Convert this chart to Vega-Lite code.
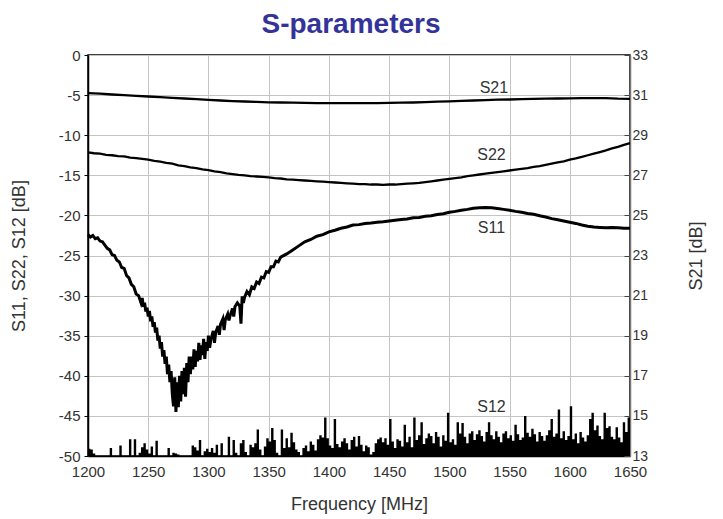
{
"$schema": "https://vega.github.io/schema/vega-lite/v6.json",
"width": 542, "height": 401,
"autosize": {"type": "none"},
"padding": {"left": 88, "top": 55, "right": 93, "bottom": 63},
"background": "white",
"config": {
  "view": {"stroke": "#000", "strokeWidth": 1.5},
  "font": "Liberation Sans",
  "axis": {"labelFont": "Liberation Sans", "labelFontSize": 15, "labelColor": "#333", "titleFont": "Liberation Sans", "titleFontSize": 18, "titleFontWeight": "normal", "titleColor": "#333", "gridColor": "#c4c4c4", "gridWidth": 1}
},
"title": {"text": "S-parameters", "fontSize": 28, "fontWeight": "bold", "color": "#333399", "font": "Liberation Sans", "anchor": "middle", "offset": 9, "dx": -8},
"datasets": {
"s21": [{"f":1200,"v":31.1},{"f":1210,"v":31.07},{"f":1220,"v":31.03},{"f":1230,"v":31.0},{"f":1240,"v":30.96},{"f":1250,"v":30.93},{"f":1260,"v":30.9},{"f":1270,"v":30.86},{"f":1280,"v":30.83},{"f":1290,"v":30.8},{"f":1300,"v":30.76},{"f":1310,"v":30.73},{"f":1320,"v":30.7},{"f":1330,"v":30.68},{"f":1340,"v":30.66},{"f":1350,"v":30.64},{"f":1360,"v":30.63},{"f":1370,"v":30.62},{"f":1380,"v":30.61},{"f":1390,"v":30.6},{"f":1400,"v":30.6},{"f":1410,"v":30.6},{"f":1420,"v":30.6},{"f":1430,"v":30.6},{"f":1440,"v":30.6},{"f":1450,"v":30.61},{"f":1460,"v":30.62},{"f":1470,"v":30.63},{"f":1480,"v":30.65},{"f":1490,"v":30.67},{"f":1500,"v":30.69},{"f":1510,"v":30.71},{"f":1520,"v":30.73},{"f":1530,"v":30.75},{"f":1540,"v":30.77},{"f":1550,"v":30.78},{"f":1560,"v":30.8},{"f":1570,"v":30.81},{"f":1580,"v":30.82},{"f":1590,"v":30.83},{"f":1600,"v":30.84},{"f":1610,"v":30.85},{"f":1620,"v":30.85},{"f":1630,"v":30.85},{"f":1640,"v":30.82},{"f":1650,"v":30.81}],
"s22": [{"f":1200,"v":-12.15},{"f":1205,"v":-12.25},{"f":1210,"v":-12.3},{"f":1215,"v":-12.45},{"f":1220,"v":-12.5},{"f":1225,"v":-12.6},{"f":1230,"v":-12.65},{"f":1235,"v":-12.8},{"f":1240,"v":-12.85},{"f":1245,"v":-12.95},{"f":1250,"v":-13.05},{"f":1255,"v":-13.2},{"f":1260,"v":-13.3},{"f":1265,"v":-13.45},{"f":1270,"v":-13.55},{"f":1275,"v":-13.75},{"f":1280,"v":-13.85},{"f":1285,"v":-14.0},{"f":1290,"v":-14.1},{"f":1295,"v":-14.25},{"f":1300,"v":-14.35},{"f":1305,"v":-14.5},{"f":1310,"v":-14.6},{"f":1315,"v":-14.75},{"f":1320,"v":-14.85},{"f":1325,"v":-14.95},{"f":1330,"v":-15.0},{"f":1335,"v":-15.1},{"f":1340,"v":-15.15},{"f":1345,"v":-15.2},{"f":1350,"v":-15.25},{"f":1355,"v":-15.35},{"f":1360,"v":-15.4},{"f":1365,"v":-15.5},{"f":1370,"v":-15.55},{"f":1375,"v":-15.6},{"f":1380,"v":-15.65},{"f":1385,"v":-15.7},{"f":1390,"v":-15.75},{"f":1395,"v":-15.8},{"f":1400,"v":-15.85},{"f":1405,"v":-15.9},{"f":1410,"v":-15.95},{"f":1415,"v":-16.0},{"f":1420,"v":-16.05},{"f":1425,"v":-16.1},{"f":1430,"v":-16.1},{"f":1435,"v":-16.15},{"f":1440,"v":-16.15},{"f":1445,"v":-16.2},{"f":1450,"v":-16.15},{"f":1455,"v":-16.15},{"f":1460,"v":-16.1},{"f":1465,"v":-16.05},{"f":1470,"v":-16.0},{"f":1475,"v":-15.95},{"f":1480,"v":-15.85},{"f":1485,"v":-15.75},{"f":1490,"v":-15.65},{"f":1495,"v":-15.55},{"f":1500,"v":-15.45},{"f":1505,"v":-15.35},{"f":1510,"v":-15.25},{"f":1515,"v":-15.1},{"f":1520,"v":-15.0},{"f":1525,"v":-14.9},{"f":1530,"v":-14.8},{"f":1535,"v":-14.7},{"f":1540,"v":-14.6},{"f":1545,"v":-14.5},{"f":1550,"v":-14.4},{"f":1555,"v":-14.3},{"f":1560,"v":-14.2},{"f":1565,"v":-14.1},{"f":1570,"v":-13.95},{"f":1575,"v":-13.85},{"f":1580,"v":-13.7},{"f":1585,"v":-13.55},{"f":1590,"v":-13.4},{"f":1595,"v":-13.25},{"f":1600,"v":-13.05},{"f":1605,"v":-12.9},{"f":1610,"v":-12.7},{"f":1615,"v":-12.5},{"f":1620,"v":-12.3},{"f":1625,"v":-12.1},{"f":1630,"v":-11.9},{"f":1635,"v":-11.65},{"f":1640,"v":-11.45},{"f":1645,"v":-11.2},{"f":1650,"v":-11.0}],
"s11": [{"f":1200,"v":-22.4},{"f":1202,"v":-22.7},{"f":1204,"v":-22.5},{"f":1206,"v":-22.9},{"f":1208,"v":-22.8},{"f":1210,"v":-23.2},{"f":1212,"v":-23.3},{"f":1214,"v":-23.7},{"f":1216,"v":-24.1},{"f":1218,"v":-24.3},{"f":1220,"v":-24.9},{"f":1222,"v":-25.0},{"f":1224,"v":-25.6},{"f":1226,"v":-25.8},{"f":1228,"v":-26.5},{"f":1230,"v":-26.6},{"f":1232,"v":-27.5},{"f":1234,"v":-27.8},{"f":1236,"v":-28.6},{"f":1238,"v":-28.9},{"f":1240,"v":-29.8},{"f":1242,"v":-30.0},{"f":1244,"v":-30.9},{"f":1245,"v":-30.3},{"f":1246,"v":-31.4},{"f":1247,"v":-30.9},{"f":1248,"v":-32.0},{"f":1249,"v":-31.5},{"f":1250,"v":-32.6},{"f":1251,"v":-31.9},{"f":1252,"v":-33.2},{"f":1253,"v":-32.6},{"f":1254,"v":-33.9},{"f":1255,"v":-33.3},{"f":1256,"v":-34.6},{"f":1257,"v":-34.0},{"f":1258,"v":-35.6},{"f":1259,"v":-35.0},{"f":1260,"v":-36.6},{"f":1261,"v":-35.8},{"f":1262,"v":-37.6},{"f":1263,"v":-36.8},{"f":1264,"v":-38.5},{"f":1265,"v":-37.6},{"f":1266,"v":-39.8},{"f":1267,"v":-38.6},{"f":1268,"v":-40.8},{"f":1269,"v":-39.4},{"f":1270,"v":-42.3},{"f":1271,"v":-43.8},{"f":1272,"v":-40.2},{"f":1273,"v":-44.5},{"f":1274,"v":-40.8},{"f":1275,"v":-43.9},{"f":1276,"v":-40.0},{"f":1277,"v":-43.2},{"f":1278,"v":-39.4},{"f":1279,"v":-42.3},{"f":1280,"v":-39.0},{"f":1281,"v":-42.6},{"f":1282,"v":-38.4},{"f":1283,"v":-40.8},{"f":1284,"v":-37.6},{"f":1285,"v":-39.8},{"f":1286,"v":-37.6},{"f":1287,"v":-39.2},{"f":1288,"v":-36.7},{"f":1289,"v":-38.9},{"f":1290,"v":-36.9},{"f":1291,"v":-38.2},{"f":1292,"v":-35.9},{"f":1293,"v":-38.0},{"f":1294,"v":-36.2},{"f":1295,"v":-37.4},{"f":1296,"v":-35.4},{"f":1297,"v":-37.9},{"f":1298,"v":-35.8},{"f":1299,"v":-36.9},{"f":1300,"v":-35.0},{"f":1301,"v":-36.5},{"f":1302,"v":-35.5},{"f":1304,"v":-34.4},{"f":1305,"v":-35.9},{"f":1306,"v":-34.6},{"f":1308,"v":-33.8},{"f":1309,"v":-34.9},{"f":1310,"v":-33.6},{"f":1312,"v":-32.9},{"f":1313,"v":-34.3},{"f":1314,"v":-33.0},{"f":1316,"v":-32.3},{"f":1317,"v":-33.1},{"f":1318,"v":-32.5},{"f":1320,"v":-31.6},{"f":1321,"v":-32.6},{"f":1322,"v":-31.4},{"f":1324,"v":-30.9},{"f":1326,"v":-31.3},{"f":1327,"v":-33.5},{"f":1328,"v":-30.1},{"f":1329,"v":-30.9},{"f":1330,"v":-30.2},{"f":1332,"v":-29.5},{"f":1334,"v":-29.9},{"f":1336,"v":-28.9},{"f":1338,"v":-29.1},{"f":1340,"v":-28.3},{"f":1342,"v":-28.5},{"f":1344,"v":-27.7},{"f":1346,"v":-27.8},{"f":1348,"v":-27.0},{"f":1350,"v":-27.1},{"f":1352,"v":-26.4},{"f":1354,"v":-26.4},{"f":1356,"v":-25.7},{"f":1358,"v":-25.8},{"f":1360,"v":-25.2},{"f":1365,"v":-24.8},{"f":1370,"v":-24.3},{"f":1375,"v":-23.8},{"f":1380,"v":-23.3},{"f":1385,"v":-23.0},{"f":1390,"v":-22.6},{"f":1395,"v":-22.4},{"f":1400,"v":-22.05},{"f":1405,"v":-21.85},{"f":1410,"v":-21.6},{"f":1415,"v":-21.45},{"f":1420,"v":-21.2},{"f":1425,"v":-21.15},{"f":1430,"v":-21.0},{"f":1435,"v":-20.95},{"f":1440,"v":-20.85},{"f":1445,"v":-20.8},{"f":1450,"v":-20.7},{"f":1455,"v":-20.6},{"f":1460,"v":-20.5},{"f":1465,"v":-20.45},{"f":1470,"v":-20.3},{"f":1475,"v":-20.25},{"f":1480,"v":-20.1},{"f":1485,"v":-20.05},{"f":1490,"v":-19.9},{"f":1495,"v":-19.8},{"f":1500,"v":-19.6},{"f":1505,"v":-19.5},{"f":1510,"v":-19.35},{"f":1515,"v":-19.25},{"f":1520,"v":-19.1},{"f":1525,"v":-19.05},{"f":1530,"v":-19.0},{"f":1535,"v":-19.05},{"f":1540,"v":-19.15},{"f":1545,"v":-19.25},{"f":1550,"v":-19.35},{"f":1555,"v":-19.5},{"f":1560,"v":-19.6},{"f":1565,"v":-19.75},{"f":1570,"v":-19.85},{"f":1575,"v":-20.05},{"f":1580,"v":-20.2},{"f":1585,"v":-20.4},{"f":1590,"v":-20.55},{"f":1595,"v":-20.7},{"f":1600,"v":-20.85},{"f":1605,"v":-21.0},{"f":1610,"v":-21.2},{"f":1615,"v":-21.35},{"f":1620,"v":-21.45},{"f":1625,"v":-21.5},{"f":1630,"v":-21.55},{"f":1635,"v":-21.5},{"f":1640,"v":-21.55},{"f":1645,"v":-21.6},{"f":1650,"v":-21.6}],
"s12": [{"f":1200,"v":-49.1},{"f":1202,"v":-49.2},{"f":1204,"v":-49.7},{"f":1206,"v":-50},{"f":1208,"v":-50},{"f":1210,"v":-50},{"f":1212,"v":-50},{"f":1214,"v":-50},{"f":1216,"v":-50},{"f":1218,"v":-49.0},{"f":1220,"v":-50},{"f":1222,"v":-50},{"f":1224,"v":-50},{"f":1226,"v":-48.7},{"f":1228,"v":-50},{"f":1230,"v":-50},{"f":1232,"v":-50},{"f":1234,"v":-47.9},{"f":1236,"v":-50},{"f":1238,"v":-47.9},{"f":1240,"v":-50},{"f":1242,"v":-49.6},{"f":1244,"v":-48.9},{"f":1246,"v":-48.4},{"f":1248,"v":-49.2},{"f":1250,"v":-49.7},{"f":1252,"v":-48.8},{"f":1254,"v":-50},{"f":1256,"v":-48.1},{"f":1258,"v":-50},{"f":1260,"v":-50},{"f":1262,"v":-50},{"f":1264,"v":-50},{"f":1266,"v":-49.0},{"f":1268,"v":-50},{"f":1270,"v":-49.6},{"f":1272,"v":-49.7},{"f":1274,"v":-49.8},{"f":1276,"v":-50},{"f":1278,"v":-50},{"f":1280,"v":-50},{"f":1282,"v":-50},{"f":1284,"v":-50},{"f":1286,"v":-48.7},{"f":1288,"v":-48.9},{"f":1290,"v":-49.3},{"f":1292,"v":-48.0},{"f":1294,"v":-50},{"f":1296,"v":-49.4},{"f":1298,"v":-49.1},{"f":1300,"v":-49.5},{"f":1302,"v":-49.0},{"f":1304,"v":-49.6},{"f":1306,"v":-48.6},{"f":1308,"v":-50},{"f":1310,"v":-48.4},{"f":1312,"v":-50},{"f":1314,"v":-50},{"f":1316,"v":-47.6},{"f":1318,"v":-50},{"f":1320,"v":-48.0},{"f":1322,"v":-49.6},{"f":1324,"v":-50},{"f":1326,"v":-48.4},{"f":1328,"v":-48.0},{"f":1330,"v":-49.5},{"f":1332,"v":-50},{"f":1334,"v":-48.6},{"f":1336,"v":-48.9},{"f":1338,"v":-48.4},{"f":1340,"v":-46.7},{"f":1342,"v":-49.2},{"f":1344,"v":-50},{"f":1346,"v":-48.8},{"f":1348,"v":-47.8},{"f":1350,"v":-48.2},{"f":1352,"v":-46.5},{"f":1354,"v":-48.0},{"f":1356,"v":-49.6},{"f":1358,"v":-50},{"f":1360,"v":-46.7},{"f":1362,"v":-49.0},{"f":1364,"v":-47.8},{"f":1366,"v":-48.9},{"f":1368,"v":-47.1},{"f":1370,"v":-48.3},{"f":1372,"v":-49.2},{"f":1374,"v":-49.5},{"f":1376,"v":-50},{"f":1378,"v":-49.0},{"f":1380,"v":-48.7},{"f":1382,"v":-49.4},{"f":1384,"v":-48.2},{"f":1386,"v":-48.6},{"f":1388,"v":-49.3},{"f":1390,"v":-47.9},{"f":1392,"v":-47.4},{"f":1394,"v":-47.7},{"f":1396,"v":-45.2},{"f":1398,"v":-47.8},{"f":1400,"v":-48.7},{"f":1402,"v":-49.0},{"f":1404,"v":-45.4},{"f":1406,"v":-48.5},{"f":1408,"v":-48.9},{"f":1410,"v":-48.2},{"f":1412,"v":-47.8},{"f":1414,"v":-48.4},{"f":1416,"v":-49.2},{"f":1418,"v":-48.0},{"f":1420,"v":-47.6},{"f":1422,"v":-48.8},{"f":1424,"v":-47.5},{"f":1426,"v":-48.6},{"f":1428,"v":-49.4},{"f":1430,"v":-48.7},{"f":1432,"v":-48.9},{"f":1434,"v":-49.8},{"f":1436,"v":-49.5},{"f":1438,"v":-48.4},{"f":1440,"v":-47.9},{"f":1442,"v":-47.7},{"f":1444,"v":-48.3},{"f":1446,"v":-47.8},{"f":1448,"v":-48.6},{"f":1450,"v":-45.4},{"f":1452,"v":-48.2},{"f":1454,"v":-49.0},{"f":1456,"v":-47.9},{"f":1458,"v":-48.1},{"f":1460,"v":-48.8},{"f":1462,"v":-46.1},{"f":1464,"v":-48.3},{"f":1466,"v":-47.6},{"f":1468,"v":-48.9},{"f":1470,"v":-45.2},{"f":1472,"v":-48.0},{"f":1474,"v":-47.4},{"f":1476,"v":-45.8},{"f":1478,"v":-48.5},{"f":1480,"v":-47.8},{"f":1482,"v":-47.2},{"f":1484,"v":-47.5},{"f":1486,"v":-48.4},{"f":1488,"v":-47.0},{"f":1490,"v":-47.6},{"f":1492,"v":-48.8},{"f":1494,"v":-47.4},{"f":1496,"v":-48.1},{"f":1498,"v":-44.6},{"f":1500,"v":-48.3},{"f":1502,"v":-47.9},{"f":1504,"v":-48.6},{"f":1506,"v":-45.8},{"f":1508,"v":-47.2},{"f":1510,"v":-45.9},{"f":1512,"v":-47.6},{"f":1514,"v":-48.4},{"f":1516,"v":-47.2},{"f":1518,"v":-46.9},{"f":1520,"v":-48.0},{"f":1522,"v":-47.3},{"f":1524,"v":-46.8},{"f":1526,"v":-47.5},{"f":1528,"v":-48.2},{"f":1530,"v":-47.0},{"f":1532,"v":-45.8},{"f":1534,"v":-47.4},{"f":1536,"v":-47.9},{"f":1538,"v":-46.9},{"f":1540,"v":-47.6},{"f":1542,"v":-48.3},{"f":1544,"v":-47.2},{"f":1546,"v":-46.9},{"f":1548,"v":-47.8},{"f":1550,"v":-47.4},{"f":1552,"v":-48.1},{"f":1554,"v":-46.1},{"f":1556,"v":-47.3},{"f":1558,"v":-48.0},{"f":1560,"v":-47.7},{"f":1562,"v":-45.0},{"f":1564,"v":-47.1},{"f":1566,"v":-47.6},{"f":1568,"v":-46.6},{"f":1570,"v":-47.3},{"f":1572,"v":-48.2},{"f":1574,"v":-47.0},{"f":1576,"v":-47.5},{"f":1578,"v":-48.1},{"f":1580,"v":-47.4},{"f":1582,"v":-46.8},{"f":1584,"v":-45.4},{"f":1586,"v":-47.6},{"f":1588,"v":-47.2},{"f":1590,"v":-44.2},{"f":1592,"v":-47.8},{"f":1594,"v":-46.9},{"f":1596,"v":-48.0},{"f":1598,"v":-47.5},{"f":1600,"v":-43.8},{"f":1602,"v":-47.9},{"f":1604,"v":-47.2},{"f":1606,"v":-48.4},{"f":1608,"v":-47.0},{"f":1610,"v":-47.7},{"f":1612,"v":-48.2},{"f":1614,"v":-47.4},{"f":1616,"v":-45.4},{"f":1618,"v":-44.6},{"f":1620,"v":-46.8},{"f":1622,"v":-46.2},{"f":1624,"v":-47.5},{"f":1626,"v":-47.9},{"f":1628,"v":-44.6},{"f":1630,"v":-46.5},{"f":1632,"v":-46.3},{"f":1634,"v":-47.6},{"f":1636,"v":-47.9},{"f":1638,"v":-46.4},{"f":1640,"v":-47.7},{"f":1642,"v":-48.3},{"f":1644,"v":-45.8},{"f":1646,"v":-47.0},{"f":1648,"v":-45.2},{"f":1650,"v":-47.3}],
"lbl": [{"f":1537,"v":-4.1,"t":"S21"},{"f":1535,"v":-12.5,"t":"S22"},{"f":1535,"v":-21.6,"t":"S11"},{"f":1535,"v":-43.9,"t":"S12"}]
},
"encoding": {
  "x": {"field": "f", "type": "quantitative", "title": "Frequency [MHz]",
    "scale": {"domain": [1200, 1650], "nice": false, "zero": false},
    "axis": {"values": [1200,1250,1300,1350,1400,1450,1500,1550,1600,1650], "format": "d", "grid": true, "ticks": false, "labelPadding": 8, "domainColor": "#000", "domainWidth": 1.5, "titlePadding": 16, "labelFlush": false}}
},
"layer": [
  {
    "encoding": {
      "y": {"field": "v", "type": "quantitative", "title": "S11, S22, S12 [dB]",
        "scale": {"domain": [-50, 0], "nice": false, "zero": false},
        "axis": {"orient": "left", "values": [-50,-45,-40,-35,-30,-25,-20,-15,-10,-5,0], "labelExpr": "datum.value == 0 ? '0' : '-' + abs(datum.value)", "grid": true, "tickSize": 4, "tickColor": "#000", "labelPadding": 4, "domainColor": "#000", "domainWidth": 1.5, "titlePadding": 30}}
    },
    "layer": [
      {"data": {"name": "s12"}, "mark": {"type": "area", "interpolate": "step-after", "color": "#000", "clip": true}, "encoding": {"y2": {"datum": -50}}},
      {"data": {"name": "s22"}, "mark": {"type": "line", "color": "#000", "strokeWidth": 2.3}},
      {"data": {"name": "s11"}, "mark": {"type": "line", "color": "#000", "strokeWidth": 3}},
      {"data": {"name": "lbl"}, "mark": {"type": "text", "font": "Liberation Sans", "fontSize": 16, "color": "#333", "align": "center", "baseline": "middle"}, "encoding": {"text": {"field": "t"}}}
    ]
  },
  {
    "data": {"name": "s21"},
    "mark": {"type": "line", "color": "#000", "strokeWidth": 2.3},
    "encoding": {
      "y": {"field": "v", "type": "quantitative", "title": "S21 [dB]",
        "scale": {"domain": [13, 33], "nice": false, "zero": false},
        "axis": {"orient": "right", "values": [13,15,17,19,21,23,25,27,29,31,33], "grid": false, "tickSize": -6, "tickColor": "#444", "labelPadding": 8, "labelFontSize": 14, "domainColor": "#777", "domainWidth": 1.5, "titleAngle": 270, "titleBaseline": "top", "titlePadding": 40}}
    }
  }
],
"resolve": {"scale": {"y": "independent"}}
}
